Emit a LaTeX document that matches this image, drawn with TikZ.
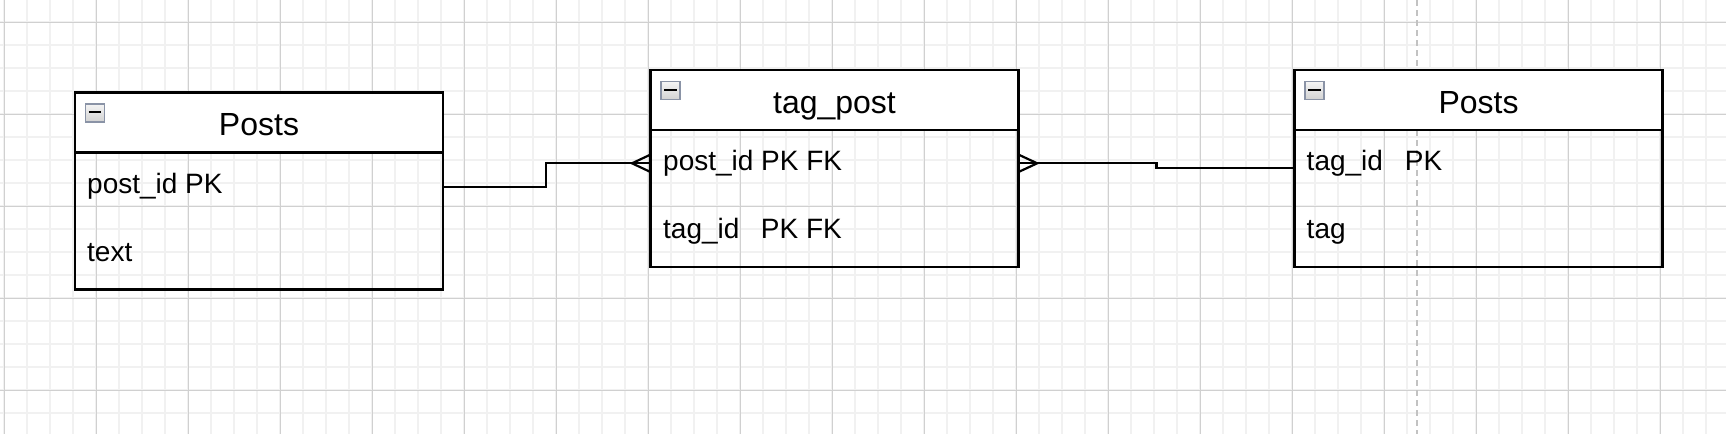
\documentclass[tikz,border=0pt]{standalone}
\usepackage{fontspec}
\setmainfont{Liberation Sans}
\usetikzlibrary{calc}
\definecolor{gmin}{HTML}{F1F1F1}
\definecolor{gmaj}{HTML}{D0D0D0}
\definecolor{dashc}{HTML}{C2C2C2}
\definecolor{iconb}{HTML}{8A93A6}
\begin{document}
\begin{tikzpicture}[x=1pt,y=-1pt,
  gridminor/.style={draw=gmin, line width=2pt},
  gridmajor/.style={draw=gmaj, line width=1.3pt},
  guide/.style={draw=dashc, line width=2pt, dash pattern=on 6pt off 4pt},
  tbl/.style={draw=black, line width=2.6pt, minimum width=368pt, minimum height=197pt, inner sep=0pt, outer sep=0pt, anchor=north west},
  tblhead/.style={draw=black, fill=white, line width=2.6pt, minimum width=368pt, minimum height=60pt, inner sep=0pt, outer sep=0pt, anchor=north west},
  iconbox/.style={draw=iconb, line width=1.8pt, top color=gray!8, bottom color=gray!35, minimum width=19pt, minimum height=18pt, inner sep=0pt, anchor=north west},
  minusbar/.style={draw=black, line width=2.2pt},
  htext/.style={font=\fontsize{32}{38}\selectfont, anchor=base, inner sep=0pt},
  rtext/.style={font=\fontsize{28}{33}\selectfont, anchor=base west, inner sep=0pt},
  conn/.style={draw=black, line width=2.2pt, line join=miter}
]
\useasboundingbox[fill=white] (0,0) rectangle (1726,434);
% grid
\foreach \i in {0,...,74} \draw[gridminor] ({4.3+23*\i},0) -- ({4.3+23*\i},434);
\foreach \j in {0,...,17} \draw[gridminor] (0,{22.3+23*\j}) -- (1726,{22.3+23*\j});
\draw[gridminor] (0,-0.7) -- (1726,-0.7);
\foreach \i in {0,...,18} \draw[gridmajor] ({4.3+92*\i},0) -- ({4.3+92*\i},434);
\foreach \j in {0,...,4} \draw[gridmajor] (0,{22.3+92*\j}) -- (1726,{22.3+92*\j});
% dashed guide
\coordinate (gtop) at (1416.7,0);
\coordinate (gbot) at (1416.7,434);
\draw[guide] (gtop) -- (gbot);

% tables
\node[tbl] (t1) at (75,92.3) {};
\node[tblhead] (t1h) at (t1.north west) {};
\node[tbl] (t2) at (650.5,70) {};
\node[tblhead] (t2h) at (t2.north west) {};
\node[tbl] (t3) at (1294.5,70) {};
\node[tblhead] (t3h) at (t3.north west) {};

% icons
\foreach \t in {t1,t2,t3}{
  \node[iconbox] (\t i) at ($(\t.north west)+(9.5,10.5)$) {};
  \draw[minusbar] ($(\t i.center)+(-6.2,-0.5)$) -- ($(\t i.center)+(6.2,-0.5)$);
}

% texts
\node[htext] (t1title) at ($(t1.north)+(0,43.5)$) {Posts};
\node[rtext] (t1r1) at ($(t1.north west)+(12,100.8)$) {post\_id PK};
\node[rtext] (t1r2) at ($(t1.north west)+(12,168.7)$) {text};

\node[htext] (t2title) at ($(t2.north)+(0,43.3)$) {tag\_post};
\node[rtext] (t2r1) at ($(t2.north west)+(12.5,100)$) {post\_id PK FK};
\node[rtext] (t2r2) at ($(t2.north west)+(12.5,168.3)$) {tag\_id\hspace{21.5pt}PK FK};

\node[htext] (t3title) at ($(t3.north)+(0,43)$) {Posts};
\node[rtext] (t3r1) at ($(t3.north west)+(12,100)$) {tag\_id\hspace{22pt}PK};
\node[rtext] (t3r2) at ($(t3.north west)+(12,168)$) {tag};

% connectors
\coordinate (e1) at ($(t1.north east)+(0,94.4)$);
\coordinate (e2) at ($(t2.north west)+(0,93.3)$);
\draw[conn] (e1) -- ++(102.7,0) |- (e2);
\draw[conn] ($(e2)+(0,-8.7)$) -- ($(e2)+(-18.5,0)$) -- ($(e2)+(0,8.7)$);

\coordinate (e3) at ($(t2.north east)+(0,93.3)$);
\coordinate (e4) at ($(t3.north west)+(0,98.3)$);
\draw[conn] (e3) -- ++(138,0) |- (e4);
\draw[conn] ($(e3)+(0,-8.7)$) -- ($(e3)+(18.7,0)$) -- ($(e3)+(0,8.7)$);
\end{tikzpicture}
\end{document}
